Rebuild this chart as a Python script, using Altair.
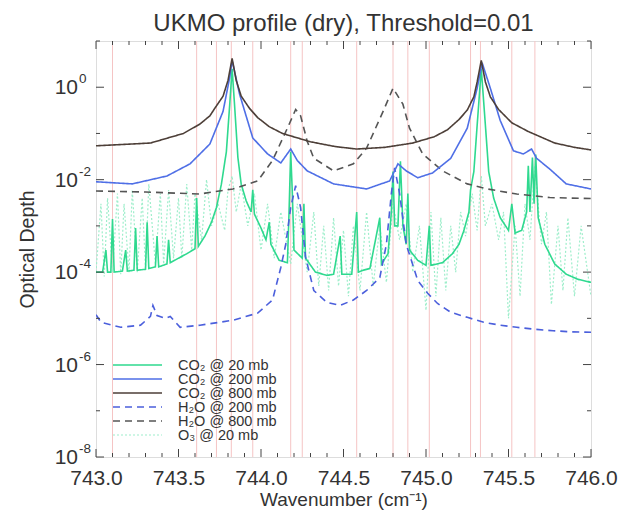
import altair as alt
import pandas as pd

F = "Liberation Sans"

# ---------------- data ----------------
co2_20_wn = [743.00, 743.04, 743.06, 743.07, 743.09, 743.10, 743.11, 743.16, 743.18, 743.19,
             743.23, 743.24, 743.25, 743.30, 743.31, 743.32, 743.36, 743.37, 743.38, 743.43,
             743.44, 743.45, 743.50, 743.55, 743.60, 743.61, 743.62, 743.66, 743.70, 743.73,
             743.76, 743.79, 743.81, 743.825, 743.84, 743.86, 743.88, 743.91, 743.94, 743.95,
             743.96, 744.00, 744.03, 744.05, 744.06, 744.11, 744.16, 744.17, 744.18, 744.19,
             744.20, 744.25, 744.26, 744.27, 744.33, 744.40, 744.44, 744.48, 744.49, 744.55,
             744.58, 744.59, 744.62, 744.66, 744.72, 744.73, 744.77, 744.79, 744.80, 744.81,
             744.83, 744.845, 744.86, 744.88, 744.89, 744.90, 744.95, 745.00, 745.02, 745.03,
             745.10, 745.16, 745.20, 745.23, 745.26, 745.27, 745.29, 745.31, 745.335, 745.36,
             745.38, 745.41, 745.45, 745.50, 745.52, 745.54, 745.58, 745.61, 745.62, 745.63,
             745.645, 745.655, 745.665, 745.68, 745.72, 745.78, 745.85, 745.92, 746.00]
co2_20_od = [1.0e-4, 1.0e-4, 3e-4, 1.0e-4, 1.0e-4, 1.4e-3, 1.0e-4, 1.05e-4, 3e-4, 1.05e-4,
             1.1e-4, 9e-4, 1.1e-4, 1.15e-4, 1.2e-3, 1.2e-4, 1.3e-4, 6e-4, 1.3e-4, 1.5e-4,
             5e-4, 1.6e-4, 2.0e-4, 2.5e-4, 3.2e-4, 4e-3, 3.6e-4, 6e-4, 1.2e-3, 2.5e-3,
             8e-3, 4e-2, 0.4, 2.5, 0.4, 3e-2, 8e-3, 3.5e-3, 2e-3, 6e-3,
             1.8e-3, 9e-4, 5e-4, 1.2e-3, 4e-4, 1.8e-4, 1.6e-4, 2e-3, 4e-2, 5e-3,
             3e-4, 2e-4, 3e-3, 2e-4, 1.0e-4, 8.5e-5, 9e-5, 6e-4, 9e-5, 9e-5,
             2e-3, 1e-4, 1.1e-4, 1.2e-4, 1.5e-3, 1.5e-4, 2.5e-4, 2e-3, 1.5e-2, 1e-3,
             1e-3, 2.5e-2, 1e-3, 4e-4, 5e-3, 3e-4, 1.8e-4, 1.4e-4, 1e-3, 1.4e-4,
             1.6e-4, 2.5e-4, 4e-4, 8e-4, 2e-3, 6e-3, 1.5e-2, 0.15, 2.5, 0.15,
             1.5e-2, 4e-3, 1.5e-3, 8e-4, 3e-3, 7e-4, 8e-4, 2e-3, 2e-2, 2e-3,
             3e-2, 3e-3, 3.5e-2, 1.5e-3, 4e-4, 1.5e-4, 9e-5, 7e-5, 6e-5]

co2_200_wn = [743.00, 743.22, 743.43, 743.57, 743.69, 743.77, 743.81, 743.825, 743.87, 743.95,
              744.04, 744.12, 744.18, 744.22, 744.28, 744.44, 744.64, 744.78, 744.83, 744.88,
              744.95, 745.04, 745.15, 745.25, 745.31, 745.34, 745.39, 745.45, 745.53, 745.59,
              745.64, 745.67, 745.75, 745.85, 746.00]
co2_200_od = [9.0e-3, 8.1e-3, 1.2e-2, 2.2e-2, 5.9e-2, 0.30, 1.6, 3.8, 0.71, 0.080,
              0.036, 0.023, 0.046, 0.026, 0.0155, 8.1e-3, 6.3e-3, 9.4e-3, 0.022, 0.0155,
              0.011, 0.014, 0.029, 0.13, 0.95, 3.4, 0.95, 0.19, 0.042, 0.036,
              0.046, 0.029, 0.017, 8.1e-3, 6.3e-3]

co2_800_wn = [743.00, 743.33, 743.53, 743.63, 743.69, 743.72, 743.77, 743.80, 743.825, 743.85,
              743.88, 743.93, 743.98, 744.05, 744.13, 744.30, 744.45, 744.58, 744.75, 744.92,
              745.05, 745.13, 745.20, 745.25, 745.29, 745.31, 745.335, 745.36, 745.39, 745.44,
              745.52, 745.62, 745.78, 745.90, 746.00]
co2_800_od = [0.054, 0.062, 0.10, 0.16, 0.24, 0.35, 0.64, 1.4, 4.2, 1.4,
              0.64, 0.35, 0.22, 0.14, 0.10, 0.066, 0.052, 0.046, 0.050, 0.062,
              0.085, 0.12, 0.20, 0.32, 0.62, 1.3, 3.8, 1.3, 0.62, 0.33,
              0.17, 0.11, 0.062, 0.050, 0.044]

h2o_200_wn = [743.00, 743.03, 743.15, 743.27, 743.33, 743.345, 743.37, 743.42, 743.45, 743.51,
              743.63, 743.83, 743.98, 744.07, 744.12, 744.15, 744.18, 744.21, 744.24, 744.27,
              744.32, 744.40, 744.48, 744.56, 744.64, 744.72, 744.76, 744.79, 744.81, 744.84,
              744.88, 744.95, 745.01, 745.07, 745.15, 745.25, 745.35, 745.45, 745.55, 745.66,
              745.77, 745.88, 746.00]
h2o_200_od = [1.2e-5, 8.2e-6, 6.4e-6, 7.1e-6, 1.1e-5, 1.9e-5, 1.15e-5, 1.0e-5, 1.1e-5, 6.4e-6,
              7.1e-6, 9.1e-6, 1.3e-5, 2.5e-5, 1.26e-4, 4e-4, 2.5e-3, 7.4e-3, 2.5e-3, 2.1e-4,
              4.0e-5, 2.2e-5, 1.9e-5, 2.5e-5, 4.0e-5, 7.6e-5, 4e-4, 5e-3, 1.8e-2, 5e-3,
              4e-4, 6.6e-5, 3.5e-5, 2.1e-5, 1.35e-5, 1.05e-5, 8.2e-6, 7.1e-6, 6.4e-6, 5.8e-6,
              5.4e-6, 5.1e-6, 5.0e-6]

h2o_800_wn = [743.00, 743.30, 743.63, 743.83, 743.98, 744.07, 744.16, 744.21, 744.24, 744.28,
              744.32, 744.44, 744.56, 744.64, 744.74, 744.80, 744.86, 744.90, 744.98, 745.10,
              745.25, 745.37, 745.55, 745.75, 746.00]
h2o_800_od = [5.7e-3, 5.4e-3, 4.9e-3, 6.3e-3, 9.4e-3, 0.026, 0.13, 0.33, 0.24, 0.068,
              0.029, 0.0155, 0.022, 0.048, 0.30, 0.95, 0.43, 0.13, 0.036, 0.0155,
              8.1e-3, 6.3e-3, 4.9e-3, 4.1e-3, 3.9e-3]

o3_20_wn = [743.00, 743.03, 743.05, 743.07, 743.10, 743.13, 743.15, 743.17, 743.20, 743.22,
            743.25, 743.28, 743.30, 743.32, 743.36, 743.39, 743.41, 743.44, 743.47, 743.50,
            743.52, 743.55, 743.58, 743.60, 743.64, 743.67, 743.70, 743.74, 743.78, 743.80,
            743.825, 743.85, 743.88, 743.92, 743.96, 744.00, 744.04, 744.08, 744.12, 744.18,
            744.22, 744.28, 744.32, 744.35, 744.38, 744.41, 744.44, 744.47, 744.50, 744.53,
            744.56, 744.60, 744.64, 744.68, 744.72, 744.76, 744.80, 744.84, 744.88, 744.92,
            744.96, 745.00, 745.03, 745.06, 745.09, 745.12, 745.15, 745.18, 745.21, 745.24,
            745.28, 745.31, 745.335, 745.36, 745.40, 745.44, 745.47, 745.50, 745.54, 745.57,
            745.60, 745.63, 745.66, 745.70, 745.73, 745.76, 745.80, 745.83, 745.86, 745.90,
            745.94, 746.00]
o3_20_od = [1e-4, 3e-3, 8e-5, 4e-3, 1e-4, 5e-3, 9e-5, 3e-3, 1e-4, 6e-3,
            1e-4, 4e-3, 1.2e-4, 8e-3, 1.5e-4, 5e-3, 1.5e-4, 6e-3, 2e-4, 4e-3,
            2e-4, 8e-3, 3e-4, 5e-3, 5e-4, 1e-2, 1e-3, 3e-3, 8e-4, 6e-3,
            1.2e-2, 2e-3, 8e-3, 1e-3, 5e-3, 3e-4, 3e-3, 2e-4, 2e-3, 1.5e-4,
            3e-3, 1e-4, 2e-3, 5e-5, 1e-3, 4e-5, 1.5e-3, 5e-5, 8e-4, 3e-5,
            1e-3, 4e-5, 2e-3, 5e-5, 1e-3, 6e-5, 3e-3, 5e-4, 3e-3, 1e-4,
            1e-3, 1.5e-5, 2e-3, 3e-5, 1.5e-3, 4e-5, 1e-3, 1e-4, 2e-3, 6e-4,
            5e-3, 8e-4, 1.2e-2, 1e-3, 3e-3, 5e-4, 2e-3, 1e-5, 1e-3, 3e-5,
            3e-3, 5e-4, 2e-2, 4e-4, 2e-3, 2e-5, 1e-3, 4e-5, 1.5e-3, 3e-5,
            1e-3, 3e-5]

line_centres = [743.10, 743.61, 743.73, 743.82, 743.95, 744.18, 744.25, 744.58, 744.80,
                744.89, 745.02, 745.27, 745.33, 745.52, 745.66]

series_names = ["CO\u2082 @  20 mb", "CO\u2082 @ 200 mb", "CO\u2082 @ 800 mb",
                "H\u2082O @ 200 mb", "H\u2082O @ 800 mb", "O\u2083 @  20 mb"]
series_colors = ["#2fd98f", "#4f6fe6", "#4d3f38", "#4b5fdc", "#555555", "#9eeecb"]
series_dash = [[1, 0], [1, 0], [1, 0], [7, 5], [7, 5], [2, 2]]
series_width = [1.6, 1.6, 1.6, 1.6, 1.6, 1.2]

x_major = [743.0, 743.5, 744.0, 744.5, 745.0, 745.5, 746.0]
x_minor = [743.1, 743.2, 743.3, 743.4, 743.6, 743.7, 743.8, 743.9, 744.1, 744.2, 744.3, 744.4,
           744.6, 744.7, 744.8, 744.9, 745.1, 745.2, 745.3, 745.4, 745.6, 745.7, 745.8, 745.9]
y_major = [1.0, 1e-2, 1e-4, 1e-6, 1e-8]
y_major_exp = ["0", "-2", "-4", "-6", "-8"]
y_minor = [10.0, 1e-1, 1e-3, 1e-5, 1e-7]

# ---------------- tables ----------------
all_series = [(co2_20_wn, co2_20_od), (co2_200_wn, co2_200_od), (co2_800_wn, co2_800_od),
              (h2o_200_wn, h2o_200_od), (h2o_800_wn, h2o_800_od), (o3_20_wn, o3_20_od)]
frames = []
for name, (wn, od) in zip(series_names, all_series):
    frames.append(pd.DataFrame({"wn": wn, "od": od, "series": name}))
df = pd.concat(frames, ignore_index=True)

W, H = 495, 416
TXT = "#333"
xs = alt.Scale(domain=[743.0, 746.0], nice=False, zero=False, padding=0)
ys = alt.Scale(type="log", domain=[1e-8, 10], nice=False, padding=0)
col_scale = alt.Scale(domain=series_names, range=series_colors)
dash_scale = alt.Scale(domain=series_names, range=series_dash)

x_axis = alt.Axis(values=x_major, format=".1f", ticks=False, domain=False, grid=False,
                  labelFont=F, labelFontSize=21, labelColor=TXT, labelPadding=10,
                  labelFlush=False, labelOverlap=False, labelBound=False,
                  title="Wavenumber (cm\u207b\u00b9)", titleFont=F, titleFontSize=19,
                  titleFontWeight="normal", titleColor=TXT,
                  titleY=48, titleBaseline="alphabetic")
y_axis = alt.Axis(labels=False, ticks=False, domain=False, grid=False,
                  title="Optical Depth", titleFont=F, titleFontSize=19.5,
                  titleFontWeight="normal", titleColor=TXT,
                  titleX=-69, titleY=H / 2, titleAlign="center",
                  titleBaseline="middle", titleAngle=-90)

def X(field="wn"):
    return alt.X(f"{field}:Q", scale=xs, axis=x_axis, title="Wavenumber (cm\u207b\u00b9)")

def Y(field="od"):
    return alt.Y(f"{field}:Q", scale=ys, axis=y_axis, title="Optical Depth")

# pink line-centre markers
centres = alt.Chart(pd.DataFrame({"wn": line_centres})).mark_rule(
    color="#f5c4c4", strokeWidth=1).encode(x=X())

def series_layer(name, width):
    return alt.Chart(df).transform_filter(alt.datum.series == name).mark_line(
        strokeWidth=width, clip=True).encode(
        x=X(), y=Y(),
        color=alt.Color("series:N", scale=col_scale, sort=series_names, legend=None),
        strokeDash=alt.StrokeDash("series:N", scale=dash_scale, sort=series_names, legend=None),
    )

draw_order = [5, 0, 3, 4, 1, 2]
line_layers = [series_layer(series_names[i], series_width[i]) for i in draw_order]

tick_col = "#444"
xmaj = pd.DataFrame({"wn": x_major})
xmin = pd.DataFrame({"wn": x_minor})
ymaj = pd.DataFrame({"od": y_major, "base": "10", "exp": y_major_exp})
ymin = pd.DataFrame({"od": y_minor})

def xticks(data, length):
    bot = alt.Chart(data).mark_rule(color=tick_col, strokeWidth=1).encode(
        x=X(), y=alt.value(H), y2=alt.value(H - length))
    top = alt.Chart(data).mark_rule(color=tick_col, strokeWidth=1).encode(
        x=X(), y=alt.value(0), y2=alt.value(length))
    return [bot, top]

def yticks(data, length):
    left = alt.Chart(data).mark_rule(color=tick_col, strokeWidth=1).encode(
        y=Y(), x=alt.value(0), x2=alt.value(length))
    right = alt.Chart(data).mark_rule(color=tick_col, strokeWidth=1).encode(
        y=Y(), x=alt.value(W - length), x2=alt.value(W))
    return [left, right]

ticks = xticks(xmaj, 8) + xticks(xmin, 4) + yticks(ymaj, 8) + yticks(ymin, 4)

ylab_base = alt.Chart(ymaj).mark_text(align="right", baseline="middle", font=F, fontSize=21,
                                      color=TXT, dy=1).encode(
    y=Y(), x=alt.value(-18), text="base:N")
ylab_exp = alt.Chart(ymaj).mark_text(align="left", baseline="middle", font=F, fontSize=13.5,
                                     color=TXT, dy=-8).encode(
    y=Y(), x=alt.value(-17), text="exp:N")

# hand-drawn legend (inside the plot, lower left)
leg_y0, leg_dy = 324, 14
legend_layers = []
for i, (name, colr, dash, wd) in enumerate(zip(series_names, series_colors, series_dash,
                                               series_width)):
    yy = leg_y0 + i * leg_dy
    legend_layers.append(
        alt.Chart(pd.DataFrame({"label": [name]})).mark_rule(
            color=colr, strokeWidth=wd, strokeDash=dash).encode(
            x=alt.value(17), x2=alt.value(66), y=alt.value(yy)))
    legend_layers.append(
        alt.Chart(pd.DataFrame({"label": [name]})).mark_text(
            align="left", baseline="middle", font=F, fontSize=14.5, color=TXT).encode(
            x=alt.value(82), y=alt.value(yy + 1), text="label:N"))

chart = alt.layer(centres, *line_layers, *ticks, ylab_base, ylab_exp, *legend_layers).properties(
    width=W, height=H,
    title=alt.TitleParams("UKMO profile (dry), Threshold=0.01", font=F, fontSize=24,
                          fontWeight="normal", color=TXT, anchor="middle", offset=5),
    autosize=alt.AutoSizeParams(type="none"),
    padding={"left": 96, "top": 41, "right": 31, "bottom": 54},
).configure_view(stroke="#333", strokeWidth=1).configure(background="white")

chart.save("out.html", embed_options={"renderer": "svg", "actions": False})
